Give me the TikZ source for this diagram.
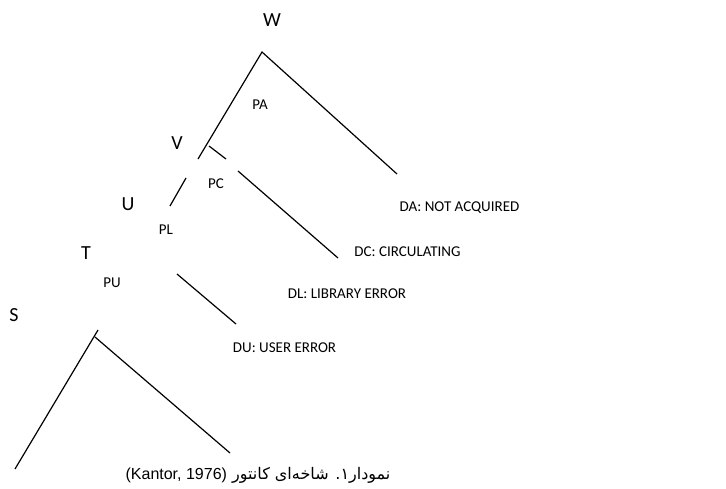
\documentclass[tikz,border=0pt]{standalone}
\usepackage{fontspec}
\setmainfont{Liberation Sans}
\newfontfamily\labelfont{Carlito}
\newfontfamily\persianfont[Script=Arabic]{DejaVu Sans}
\TeXXeTstate=1

\begin{document}
\begin{tikzpicture}[x=1pt, y=-1pt,
    branch/.style={line width=1.2pt},
    big/.style={inner sep=0pt, font=\labelfont\fontsize{20}{24}\selectfont},
    small/.style={inner sep=0pt, font=\labelfont\fontsize{15}{18}\selectfont}]
    \useasboundingbox (0,0) rectangle (726,488);
    % Branch ends
    \coordinate (wtop) at (262,52);
    \coordinate (wleft) at (198,159);
    \coordinate (wright) at (397,174);
    \coordinate (vtop) at (186,178);
    \coordinate (vend) at (170,206);
    \coordinate (ctop) at (209,146);
    \coordinate (cmid) at (226,159);
    \coordinate (cgap) at (238,171);
    \coordinate (cend) at (338,258);
    \coordinate (utop) at (177,274);
    \coordinate (uend) at (236,324);
    \coordinate (stop) at (98,330);
    \coordinate (sleft) at (15,469);
    \coordinate (sfork) at (95,337);
    \coordinate (sright) at (230,453);
    % Branches
    \draw [branch] (wleft) -- (wtop) -- (wright);
    \draw [branch] (vtop) -- (vend);
    \draw [branch] (ctop) -- (cmid);
    \draw [branch] (cgap) -- (cend);
    \draw [branch] (utop) -- (uend);
    \draw [branch] (stop) -- (sleft);
    \draw [branch] (sfork) -- (sright);
    % Letters
    \node [big] (W) at (272,20) {W};
    \node [big] (V) at (177,143) {V};
    \node [big] (U) at (128,204) {U};
    \node [big] (T) at (86,253) {T};
    \node [big] (S) at (14,315) {S};
    % Labels
    \node [small] (PA) at (260,105) {PA};
    \node [small] (PC) at (216,184) {PC};
    \node [small] (PL) at (166,230) {PL};
    \node [small] (PU) at (112,283) {PU};
    \node [small] (DA) at (459.5,208) {DA: NOT ACQUIRED};
    \node [small] (DC) at (407.5,252) {DC: CIRCULATING};
    \node [small] (DL) at (347,294) {DL: LIBRARY ERROR};
    \node [small] (DU) at (284.5,348) {DU: USER ERROR};
    % Caption
    \node [inner sep=0pt, font=\fontsize{16}{19}\selectfont] (caption) at (258,475)
        {\persianfont\beginR نمودار۱. شاخه‌ای کانتور \beginL\rmfamily(Kantor, 1976)\endL\endR};
\end{tikzpicture}
\end{document}
